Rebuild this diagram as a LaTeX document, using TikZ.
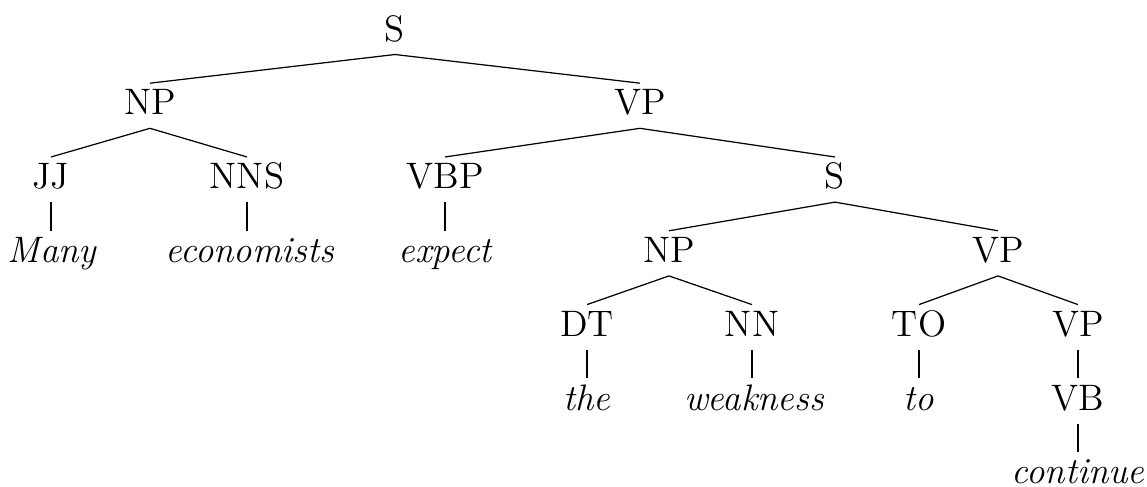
\documentclass[tikz,border=0pt]{standalone}
\usepackage{tikz}

\tikzset{
  cat/.style={anchor=base, inner sep=0pt, font=\large, text height=10.1pt, text depth=4.2pt},
  word/.style={anchor=base, inner sep=0pt, font=\large\itshape, text height=10.1pt}
}

\begin{document}
\begin{tikzpicture}[x=0.3257pt, y=-0.3257pt]
	\useasboundingbox (0,0) rectangle (1147,486);
	% root and its two phrases
	\node[cat] (s) at (395,41) {S};
	\node[cat] (np) at (150,114.8) {NP};
	\node[cat] (vp) at (640,114.8) {VP};
	\draw (s.south) -- (np.north);
	\draw (s.south) -- (vp.north);
	% subject
	\node[cat] (jj) at (51,188.6) {JJ};
	\node[cat] (nns) at (247,188.6) {NNS};
	\node[word] (many) at (52,262.4) {Many};
	\node[word] (economists) at (250,262.4) {economists};
	\draw (np.south) -- (jj.north);
	\draw (np.south) -- (nns.north);
	\draw (jj.south) -- (many.north -| jj);
	\draw (nns.south) -- (economists.north -| nns);
	% main verb
	\node[cat] (vbp) at (445,188.6) {VBP};
	\node[cat] (s2) at (835,188.6) {S};
	\node[word] (expect) at (445,262.4) {expect};
	\draw (vp.south) -- (vbp.north);
	\draw (vp.south) -- (s2.north);
	\draw (vbp.south) -- (expect.north);
	% embedded clause
	\node[cat] (np2) at (669,262.4) {NP};
	\node[cat] (vp2) at (998,262.4) {VP};
	\draw (s2.south) -- (np2.north);
	\draw (s2.south) -- (vp2.north);
	\node[cat] (dt) at (587,336.2) {DT};
	\node[cat] (nn) at (752,336.2) {NN};
	\node[word] (the) at (587,410) {the};
	\node[word] (weakness) at (754,410) {weakness};
	\draw (np2.south) -- (dt.north);
	\draw (np2.south) -- (nn.north);
	\draw (dt.south) -- (the.north);
	\draw (nn.south) -- (weakness.north -| nn);
	% infinitive
	\node[cat] (to) at (919,336.2) {TO};
	\node[cat] (vp3) at (1078,336.2) {VP};
	\node[word] (toword) at (919,410) {to};
	\node[cat] (vb) at (1078,410) {VB};
	\node[word] (continue) at (1078,483.5) {continue};
	\draw (vp2.south) -- (to.north);
	\draw (vp2.south) -- (vp3.north);
	\draw (to.south) -- (toword.north);
	\draw (vp3.south) -- (vb.north);
	\draw (vb.south) -- (continue.north);
\end{tikzpicture}
\end{document}
